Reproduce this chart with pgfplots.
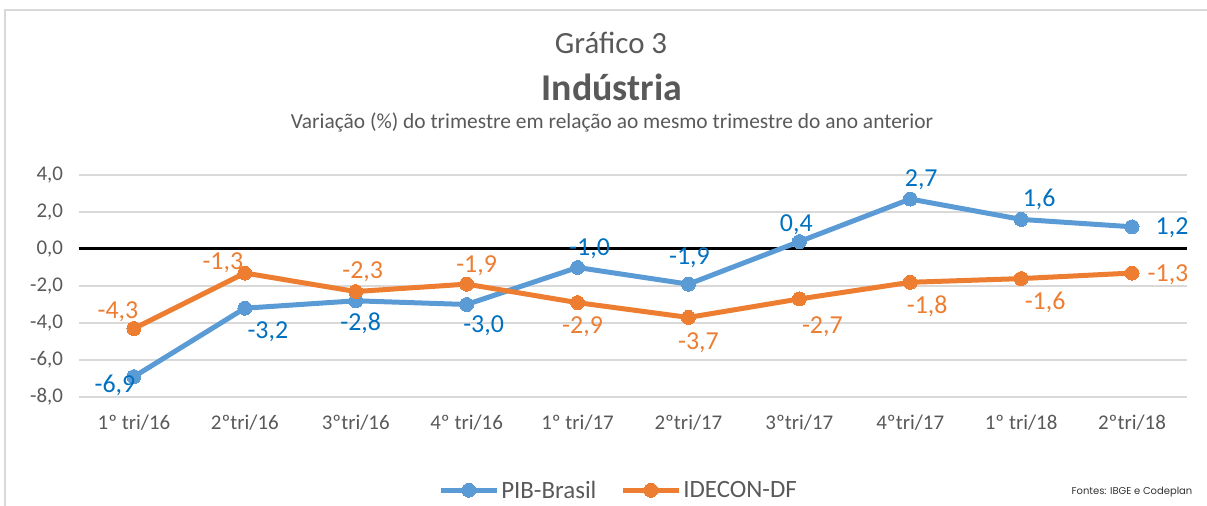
\documentclass[border=0pt]{standalone}
\usepackage{pgfplots}
\pgfplotsset{compat=1.18}
\usepackage{pgfplotstable}
\usepackage{fontspec}
\setmainfont{Carlito}
\newfontfamily\pop{Poppins}
\definecolor{pib}{HTML}{5B9BD5}
\definecolor{pibtxt}{HTML}{0070C0}
\definecolor{ide}{HTML}{ED7D31}
\definecolor{txt}{HTML}{595959}
\definecolor{gridc}{HTML}{D9D9D9}
\pgfkeys{/pgf/number format/assume math mode=true}

\pgfplotstableread{
x y dx dy
0 -6.9 -19 -9
1 -3.2 23 -24
2 -2.8 5 -23
3 -3.0 17 -21
4 -1.0 12 19
5 -1.9 1 26
6 0.4 -3 17
7 2.7 11 19
8 1.6 18 20
9 1.2 40 -1
}\pibdata

\pgfplotstableread{
x y dx dy
0 -4.3 -16 17
1 -1.3 -22 10
2 -2.3 7 20
3 -1.9 10 18
4 -2.9 5 -24
5 -3.7 10 -25
6 -2.7 23 -28
7 -1.8 17 -24
8 -1.6 24 -24
9 -1.3 36 -2
}\idedata

\pgfplotsset{lbl/.style={
  visualization depends on={\thisrow{dx}\as\dx},
  visualization depends on={\thisrow{dy}\as\dy},
  nodes near coords={\pgfmathprintnumber[fixed,fixed zerofill,precision=1,use comma]{\pgfplotspointmeta}},
  nodes near coords style={anchor=center, xshift=\dx bp, yshift=\dy bp, font=\fontsize{26}{30}\selectfont, text=#1},
}}

\begin{document}
\begin{tikzpicture}
\useasboundingbox (0,0) rectangle (1207bp,506bp);
\draw[color=gridc, line width=2bp] (5bp,0) -- (5bp,496bp) -- (1207bp,496bp);
\node[text=txt, font=\fontsize{31}{35}\selectfont] at (611bp,463bp) {Gráfico 3};
\node[text=txt, font=\fontsize{38}{42}\selectfont\bfseries] at (612bp,419bp) {Indústria};
\node[text=txt, font=\fontsize{21.5}{25}\selectfont] at (612bp,384bp) {Variação (\%) do trimestre em relação ao mesmo trimestre do ano anterior};
\node[text=black!80, font=\pop\fontsize{10}{12}\selectfont] at (1132bp,14bp) {Fontes: IBGE e Codeplan};
\begin{axis}[
  at={(78.5bp,109bp)}, anchor=south west,
  scale only axis, width=1109bp, height=222bp,
  xmin=-0.5, xmax=9.5, ymin=-8, ymax=4,
  ytick={-8,-6,-4,-2,0,2,4},
  xtick={0,...,9},
  xticklabels={1º tri/16, 2ºtri/16, 3ºtri/16, 4º tri/16, 1º tri/17, 2ºtri/17, 3ºtri/17, 4ºtri/17, 1º tri/18, 2ºtri/18},
  yticklabel style={/pgf/number format/fixed, /pgf/number format/fixed zerofill, /pgf/number format/precision=1, /pgf/number format/use comma, xshift=-12bp},
  axis line style={draw=none},
  major tick length=0pt,
  ymajorgrids,
  grid style={gridc, line width=1.5bp},
  tick label style={text=txt, font=\fontsize{21}{25}\selectfont},
  xticklabel style={yshift=-14bp},
  clip=false,
  legend style={at={(0.487,-0.42)}, anchor=center, draw=none, fill=none,
    legend columns=2, font=\fontsize{25}{29}\selectfont, text=txt,
    /tikz/every even column/.append style={column sep=22bp}},
  legend image code/.code={\draw[mark repeat=2,mark phase=2,#1] plot coordinates {(0bp,0bp) (28bp,0bp) (56bp,0bp)};},
]
\addplot[black, line width=3bp, forget plot] coordinates {(-0.5,0) (9.5,0)};
\addplot[pib, line width=5bp, mark=*, mark size=7bp, mark options={fill=pib, draw=pib, line width=0pt},
  lbl=pibtxt] table[x=x,y=y] {\pibdata};
\addlegendentry{PIB-Brasil}
\addplot[ide, line width=5bp, mark=*, mark size=7bp, mark options={fill=ide, draw=ide, line width=0pt},
  lbl=ide] table[x=x,y=y] {\idedata};
\addlegendentry{IDECON-DF}
\end{axis}
\end{tikzpicture}
\end{document}
